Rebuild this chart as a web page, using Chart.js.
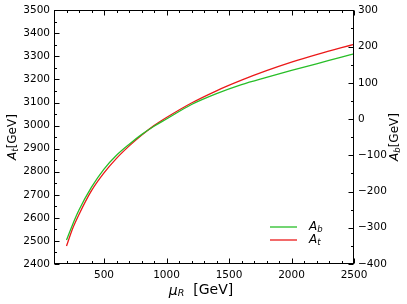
<!DOCTYPE html>
<html><head><meta charset="utf-8">
<script src="https://cdn.jsdelivr.net/npm/chart.js@4.4.1/dist/chart.umd.min.js"></script>
<style>html,body{margin:0;padding:0;background:#fff;overflow:hidden}#wrap{width:407px;height:304px;position:relative}</style>
</head><body><div id="wrap"><canvas id="c" width="407" height="304"></canvas></div>
<script>
// Data
const muR = [200,250,300,400,500,600,700,800,900,1000,1200,1400,1600,1800,2000,2200,2400,2500];
const At  = [2478,2555,2615,2718,2795,2858,2911,2958,3000,3035,3098,3151,3197,3238,3275,3308,3338,3352];
const Ab  = [-334,-290,-251,-188,-138,-100,-70,-43,-20,0,40,70,95,115,134,152,171,180];
const xTicks = [500,1000,1500,2000,2500];
const leftTicks = [2400,2500,2600,2700,2800,2900,3000,3100,3200,3300,3400,3500];
const rightTicks = [-400,-300,-200,-100,0,100,200,300];
const xMinor = [200,300,400,600,700,800,900,1100,1200,1300,1400,1600,1700,1800,1900,2100,2200,2300,2400];

const GREEN = 'rgb(40,190,40)';
const RED = 'rgb(235,25,25)';
const FONT = 'DejaVu Sans';

function drawParts(ctx, parts, cx, cy, rot) {
  ctx.save(); ctx.translate(cx, cy); ctx.rotate(rot);
  let total = 0;
  parts.forEach(p => { ctx.font = p.font; p.w = ctx.measureText(p.t).width; total += p.w; });
  let x = -total / 2;
  ctx.textBaseline = 'middle'; ctx.textAlign = 'left'; ctx.fillStyle = '#000';
  parts.forEach(p => { ctx.font = p.font; ctx.fillText(p.t, x, p.dy || 0); x += p.w; });
  ctx.restore();
}

const decor = {
  id: 'decor',
  afterDatasetsDraw(chart) {
    const ctx = chart.ctx, a = chart.chartArea;
    const sx = chart.scales.x, sy = chart.scales.y, sy1 = chart.scales.y1;
    ctx.save();
    ctx.strokeStyle = '#000'; ctx.lineWidth = 1;
    const L = Math.round(a.left) + 0.5, R = Math.round(a.right) - 0.5;
    const T = Math.round(a.top) + 0.5, B = Math.round(a.bottom) - 0.5;
    ctx.beginPath();
    function tx(v, len) {
      const p = Math.round(sx.getPixelForValue(v)) + 0.5;
      ctx.moveTo(p, B); ctx.lineTo(p, B - len);
      ctx.moveTo(p, T); ctx.lineTo(p, T + len);
    }
    xTicks.forEach(v => tx(v, 5));
    xMinor.forEach(v => tx(v, 2.5));
    leftTicks.forEach(v => {
      const p = Math.round(sy.getPixelForValue(v)) + 0.5;
      ctx.moveTo(L, p); ctx.lineTo(L + 5, p);
      const q = Math.round(sy.getPixelForValue(v + 50)) + 0.5;
      if (v + 50 < 3500) { ctx.moveTo(L, q); ctx.lineTo(L + 2.5, q); }
    });
    rightTicks.forEach(v => {
      const p = Math.round(sy1.getPixelForValue(v)) + 0.5;
      ctx.moveTo(R, p); ctx.lineTo(R - 5, p);
      const q = Math.round(sy1.getPixelForValue(v + 50)) + 0.5;
      if (v + 50 < 300) { ctx.moveTo(R, q); ctx.lineTo(R - 2.5, q); }
    });
    ctx.stroke();
    ctx.strokeRect(L, T, R - L, B - T);

    // legend
    ctx.lineWidth = 1.3;
    ctx.strokeStyle = GREEN; ctx.beginPath(); ctx.moveTo(270, 227); ctx.lineTo(297, 227); ctx.stroke();
    ctx.strokeStyle = RED; ctx.beginPath(); ctx.moveTo(270, 240); ctx.lineTo(297, 240); ctx.stroke();
    ctx.restore();

    const it12 = 'italic 12px "' + FONT + '"', it8 = 'italic 8.5px "' + FONT + '"', n12 = '12px "' + FONT + '"';
    function leg(sub, y) {
      ctx.save(); ctx.fillStyle = '#000'; ctx.textBaseline = 'middle'; ctx.textAlign = 'left';
      ctx.font = it12; ctx.fillText('A', 309, y);
      const w = ctx.measureText('A').width;
      ctx.font = it8; ctx.fillText(sub, 309 + w, y + 3);
      ctx.restore();
    }
    leg('b', 227); leg('t', 240);

    // axis titles
    drawParts(ctx, [{t:'A', font: it12}, {t:'t', font: it8, dy: 3}, {t:'[GeV]', font: n12}], 13, 137, -Math.PI / 2);
    drawParts(ctx, [{t:'A', font: it12}, {t:'b', font: it8, dy: 3}, {t:'[GeV]', font: n12}], 395, 137, -Math.PI / 2);
    drawParts(ctx, [{t:'\u03bc', font: 'italic 14px "' + FONT + '"', dy: 1}, {t:'R', font: 'italic 9.5px "' + FONT + '"', dy: 4},
                    {t:'  [GeV]', font: '14px "' + FONT + '"'}], 201, 290, 0);
  }
};

const tickFont = { family: FONT, size: 10.5 };
const plain = v => String(v).replace('-', '\u2212');

new Chart(document.getElementById('c'), {
  type: 'line',
  data: {
    datasets: [
      { label: 'A_b', data: muR.map((m, i) => ({ x: m, y: Ab[i] })), yAxisID: 'y1', borderColor: GREEN, borderWidth: 1.3, pointRadius: 0, fill: false, cubicInterpolationMode: 'monotone' },
      { label: 'A_t', data: muR.map((m, i) => ({ x: m, y: At[i] })), yAxisID: 'y', borderColor: RED, borderWidth: 1.3, pointRadius: 0, fill: false, cubicInterpolationMode: 'monotone' }
    ]
  },
  options: {
    responsive: false, animation: false, devicePixelRatio: 1,
    layout: { padding: { top: 10, left: 0, right: 0, bottom: 0 } },
    plugins: { legend: { display: false }, tooltip: { enabled: false } },
    scales: {
      x: {
        type: 'linear', min: 100, max: 2500,
        afterBuildTicks: s => { s.ticks = xTicks.map(v => ({ value: v })); },
        afterFit: s => { s.height = 40; },
        grid: { display: false, drawTicks: false }, border: { display: false },
        ticks: { font: tickFont, color: '#000', padding: 5, maxRotation: 0, autoSkip: false, callback: plain }
      },
      y: {
        position: 'left', min: 2400, max: 3500,
        afterBuildTicks: s => { s.ticks = leftTicks.map(v => ({ value: v })); },
        afterFit: s => { s.width = 54; },
        grid: { display: false, drawTicks: false }, border: { display: false },
        ticks: { font: tickFont, color: '#000', padding: 4, autoSkip: false, callback: plain }
      },
      y1: {
        position: 'right', min: -400, max: 300,
        afterBuildTicks: s => { s.ticks = rightTicks.map(v => ({ value: v })); },
        afterFit: s => { s.width = 53; },
        grid: { display: false, drawTicks: false }, border: { display: false },
        ticks: { font: tickFont, color: '#000', padding: 4, autoSkip: false, callback: plain }
      }
    }
  },
  plugins: [decor]
});
</script></body></html>
